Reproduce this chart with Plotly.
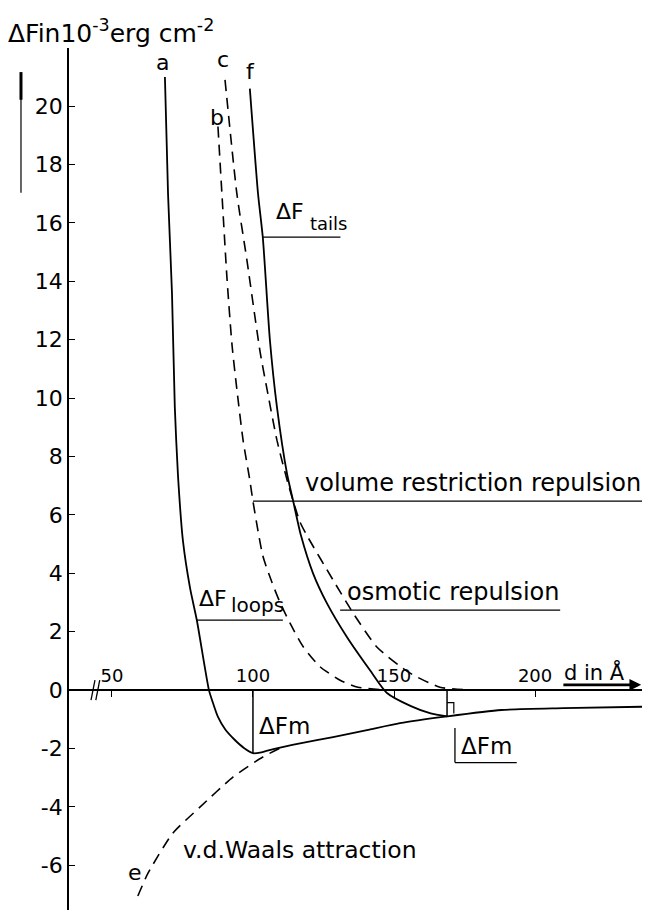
import plotly.graph_objects as go

# ---------------- data ----------------
# curve a : Delta F loops (solid), continues along the attraction branch
d_a = [68.8, 69.9, 71.3, 72.3, 73.4, 75.2, 77.7, 80.1, 84.4, 85.7, 87.6, 90.2, 93.5, 96.8, 100.0,
       103.0, 108.0, 116.7, 128.4, 140.4, 152.1, 168.8, 188.0, 210.0, 237.9]
y_a = [21.0, 17.0, 13.6, 9.7, 7.4, 5.1, 3.5, 2.4, 0.0, -0.40, -0.92, -1.35, -1.70, -1.98, -2.16,
       -2.13, -2.0, -1.82, -1.61, -1.37, -1.13, -0.90, -0.68, -0.62, -0.57]

# curve f : Delta F tails (solid)
d_f = [98.9, 101.8, 103.5, 106.0, 108.5, 112.1, 114.2, 117.0, 121.3, 126.2, 133.3, 141.5,
       147.5, 156.0, 163.0, 168.8]
y_f = [20.6, 17.0, 15.5, 12.0, 9.7, 7.4, 6.5, 5.3, 4.0, 2.98, 1.82, 0.68,
       -0.1, -0.55, -0.8, -0.90]

# curve c : osmotic repulsion (dashed)
d_c = [90.1, 94.3, 97.9, 102.5, 105.0, 108.5, 112.4, 116.7, 119.1, 128.4, 135.5, 144.0,
       155.7, 166.3, 178.0]
y_c = [20.9, 17.0, 14.7, 11.6, 10.3, 8.56, 7.09, 5.75, 5.3, 3.77, 2.64, 1.47,
       0.58, 0.10, 0.0]

# curve b : volume restriction repulsion (dashed)
d_b = [87.6, 89.0, 90.8, 92.6, 94.3, 96.5, 98.9, 100.0, 103.5, 106.7, 109.6, 113.1,
       117.7, 123.8, 130.9, 137.2, 148.0]
y_b = [19.3, 17.0, 14.1, 11.8, 10.3, 8.56, 7.19, 6.47, 4.6, 3.7, 3.0, 2.3,
       1.5, 0.8, 0.34, 0.1, 0.0]

# curve e : van der Waals attraction (dashed)
d_e = [59.2, 62.8, 71.6, 81.2, 92.9, 103.5, 110.0]
y_e = [-7.05, -6.27, -4.90, -4.01, -2.98, -2.29, -1.97]

# axes
x_tickvals = [50, 100, 150, 200]
x_ticktext = ["50", "100", "150", "200"]
y_tickvals = [-6, -4, -2, 0, 2, 4, 6, 8, 10, 12, 14, 16, 18, 20]
y_ticktext = ["-6", "-4", "-2", "0", "2", "4", "6", "8", "10", "12", "14", "16", "18", "20"]

X_RANGE = [34.8, 237.9]
Y_RANGE = [-7.53, 21.99]

# positions of the Delta F_m markers
d_min_loops = d_a[y_a.index(min(y_a))]
d_min_tails = d_f[-1]

FONT = "DejaVu Sans"
BLACK = "black"

fig = go.Figure()

def curve(x, y, dash=None, width=1.8):
    fig.add_trace(go.Scatter(
        x=x, y=y, mode="lines", hoverinfo="skip", showlegend=False,
        line=dict(color=BLACK, width=width, dash=dash, shape="spline", smoothing=0.6)))

curve(d_a, y_a)
curve(d_f, y_f)
curve(d_c, y_c, dash="11px,7px", width=1.6)
curve(d_b, y_b, dash="11px,7px", width=1.6)
curve(d_e, y_e, dash="11px,7px", width=1.6)

shapes = []
def seg(x0, y0, x1, y1, w=1.3, ref="data"):
    r = "x" if ref == "data" else "paper"
    ry = "y" if ref == "data" else "paper"
    shapes.append(dict(type="line", xref=r, yref=ry, x0=x0, y0=y0, x1=x1, y1=y1,
                       line=dict(color=BLACK, width=w)))

# leader lines
seg(103.5, 15.51, 131.0, 15.51)          # Delta F tails
seg(80.1, 2.40, 110.6, 2.40)             # Delta F loops
seg(100.0, 6.47, 237.9, 6.47)            # volume restriction repulsion
seg(130.9, 2.74, 208.9, 2.74)            # osmotic repulsion
# Delta F_m markers
seg(d_min_loops, 0, d_min_loops, min(y_a), w=1.5)
seg(d_min_tails, 0, d_min_tails, y_f[-1], w=1.5)
shapes.append(dict(type="path", xref="x", yref="y",
                   path=f"M {d_min_tails},-0.43 L {d_min_tails+2.4},-0.43 L {d_min_tails+2.4},-0.8",
                   line=dict(color=BLACK, width=1.2)))
# bracket of right Delta F_m label
seg(171.6, -1.30, 171.6, -2.48)
seg(171.6, -2.48, 193.5, -2.48)
# axis break
seg(42.6, -0.34, 44.0, 0.34, w=1.3)
seg(44.3, -0.34, 45.7, 0.34, w=1.3)
# stray vertical mark at the far left of the original
seg(-0.0838, 0.832, -0.0838, 0.972, w=1.2, ref="paper")
seg(-0.0838, 0.940, -0.0838, 0.972, w=3.0, ref="paper")

annotations = []
def label(text, x, y, size=20, xanchor="left", yanchor="middle"):
    annotations.append(dict(text=text, x=x, y=y, xref="x", yref="y", showarrow=False,
                            xanchor=xanchor, yanchor=yanchor,
                            font=dict(family=FONT, size=size, color=BLACK)))

label("a", 68.1, 21.5, 22, "center")
label("c", 89.4, 21.6, 22, "center")
label("f", 99.3, 21.2, 22, "center")
label("b", 87.2, 19.6, 22, "center")
label("e", 58.2, -6.23, 22, "center")
label("ΔF", 107.5, 16.4, 22, "left", "middle")
label("tails", 119.4, 15.55, 18, "left", "bottom")
label("ΔF", 80.2, 3.15, 22, "left", "middle")
label("loops", 91.4, 2.42, 20, "left", "bottom")
label("volume restriction repulsion", 117.6, 6.55, 24, "left", "bottom")
label("osmotic repulsion", 132.8, 2.80, 24, "left", "bottom")
label("ΔFm", 101.5, -1.23, 23, "left", "middle")
label("ΔFm", 173.2, -1.90, 23, "left", "middle")
label("v.d.Waals attraction", 74.6, -5.48, 23.5, "left", "middle")
label("d in Å", 220.9, 0.62, 21, "center", "middle")

# arrow under "d in Å"
annotations.append(dict(x=237.6, y=0.18, ax=209.5, ay=0.18, xref="x", yref="y",
                        axref="x", ayref="y", text="", showarrow=True,
                        arrowhead=2, arrowsize=0.9, arrowwidth=2.6, arrowcolor=BLACK))

x_pos = (0 - Y_RANGE[0]) / (Y_RANGE[1] - Y_RANGE[0])

# the page body has an 8px margin, so the figure is sized/offset accordingly
fig.update_layout(
    width=644, height=907,
    margin=dict(l=61, r=10, t=40, b=5),
    paper_bgcolor="white", plot_bgcolor="white",
    showlegend=False,
    title=dict(text="ΔFin10<sup>-3</sup>erg cm<sup>-2</sup>", x=0.0, xanchor="left",
               xref="container", y=1 - 25/907, yanchor="middle", yref="container",
               font=dict(family=FONT, size=25, color=BLACK)),
    font=dict(family=FONT, color=BLACK),
    xaxis=dict(range=X_RANGE, showgrid=False, zeroline=False,
               anchor="free", position=x_pos, side="top",
               showline=True, linecolor=BLACK, linewidth=1.6,
               ticks="inside", ticklen=6, tickwidth=1.3, tickcolor=BLACK,
               tickvals=x_tickvals, ticktext=x_ticktext,
               tickfont=dict(family=FONT, size=18, color=BLACK)),
    yaxis=dict(range=Y_RANGE, showgrid=False, zeroline=False,
               showline=True, linecolor=BLACK, linewidth=1.6,
               ticks="inside", ticklen=6, tickwidth=1.3, tickcolor=BLACK,
               tickvals=y_tickvals, ticktext=y_ticktext,
               tickfont=dict(family=FONT, size=22, color=BLACK)),
    shapes=shapes,
    annotations=annotations,
)

fig.write_html("out.html")
